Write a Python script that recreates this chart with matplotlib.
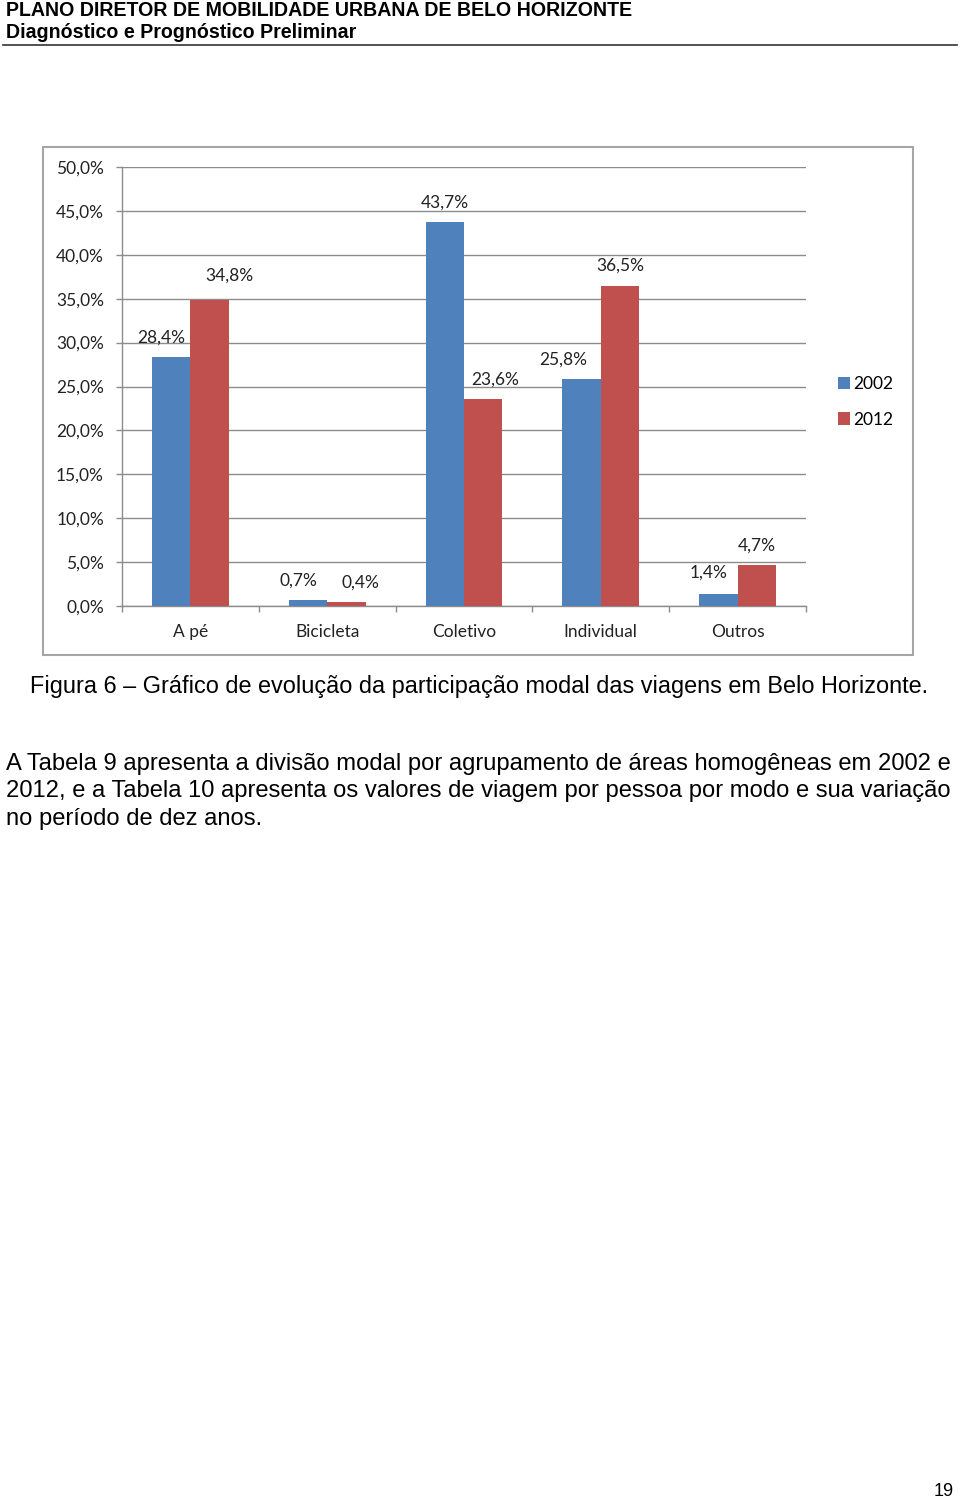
import matplotlib
matplotlib.use('Agg')
import matplotlib.pyplot as plt
from matplotlib.patches import Rectangle
from matplotlib.lines import Line2D
import numpy as np

# Data
modes = ['A pé', 'Bicicleta', 'Coletivo', 'Individual', 'Outros']
share_2002 = [28.4, 0.7, 43.7, 25.8, 1.4]
share_2012 = [34.8, 0.4, 23.6, 36.5, 4.7]
years = ['2002', '2012']
yticks = [0, 5, 10, 15, 20, 25, 30, 35, 40, 45, 50]

# label nudges (points) as placed in the original document
off_2002 = [(-7, 14), (-7, 14), (0, 14), (-13, 14), (-7, 15)]
off_2012 = [(14, 18), (10, 14), (9, 14), (0, 14), (0, 14)]

W, H = 960, 1500
blue, red = '#4F81BD', '#C0504D'
grid_c = '#8C8C8C'
chart_font = 'Lato'

fig = plt.figure(figsize=(W / 100, H / 100), dpi=100)

def fx(px):
    return px / W

def fy(py):
    return 1 - py / H

# page header
fig.text(fx(6), fy(10), 'PLANO DIRETOR DE MOBILIDADE URBANA DE BELO HORIZONTE',
         family='Liberation Sans', weight='bold', fontsize=14.1, va='center', ha='left')
fig.text(fx(6), fy(32), 'Diagnóstico e Prognóstico Preliminar',
         family='Liberation Sans', weight='bold', fontsize=14.1, va='center', ha='left')
fig.add_artist(Line2D([fx(3), fx(957)], [fy(45), fy(45)], color='#333333', lw=1.2))

# chart frame
fig.add_artist(Rectangle((fx(43), fy(655)), fx(913) - fx(43), fy(147) - fy(655),
                         fill=False, edgecolor='#A6A6A6', lw=1.5))

ax = fig.add_axes([fx(122), fy(606), fx(806) - fx(122), fy(167) - fy(606)])
x = np.arange(len(modes))
bw = 0.28
b1 = ax.bar(x - bw / 2, share_2002, bw, color=blue, label=years[0], zorder=3)
b2 = ax.bar(x + bw / 2, share_2012, bw, color=red, label=years[1], zorder=3)

for bars, vals, offs in [(b1, share_2002, off_2002), (b2, share_2012, off_2012)]:
    for b, v, o in zip(bars, vals, offs):
        ax.annotate(f'{v:.1f}%'.replace('.', ','),
                    (b.get_x() + b.get_width() / 2, b.get_height()),
                    xytext=o, textcoords='offset points', ha='center', va='center',
                    fontsize=12.5, family=chart_font, color='#222222')

ax.set_xlim(-0.5, len(modes) - 0.5)
ax.set_ylim(0, 50)
ax.set_yticks(yticks)
ax.set_yticklabels([f'{t:.1f}%'.replace('.', ',') for t in yticks],
                   family=chart_font, fontsize=12.5, color='#222222')
ax.set_xticks(x)
ax.set_xticklabels(modes, family=chart_font, fontsize=12.5, color='#222222')
ax.set_xticks(np.arange(len(modes) + 1) - 0.5, minor=True)
ax.tick_params(axis='x', which='major', length=0, pad=13)
ax.tick_params(axis='x', which='minor', length=4, color=grid_c, width=1)
ax.tick_params(axis='y', length=4, color=grid_c, width=1, pad=9)
ax.yaxis.grid(True, color=grid_c, lw=1, zorder=0)
for s in ['top', 'right']:
    ax.spines[s].set_visible(False)
for s in ['left', 'bottom']:
    ax.spines[s].set_color(grid_c)
    ax.spines[s].set_linewidth(1)
ax.set_facecolor('none')

leg = fig.legend(handles=[b1, b2], labels=years, loc='center left',
                 bbox_to_anchor=(fx(822), fy(402)), frameon=False,
                 prop={'family': chart_font, 'size': 12.5},
                 handlelength=0.7, handleheight=0.7, handletextpad=0.2,
                 labelspacing=1.1)

# caption and body text
fig.text(fx(30), fy(687), 'Figura 6 – Gráfico de evolução da participação modal das viagens em Belo Horizonte.',
         family='Liberation Sans', fontsize=16.9, va='center', ha='left')
body = ['A Tabela 9 apresenta a divisão modal por agrupamento de áreas homogêneas em 2002 e',
        '2012, e a Tabela 10 apresenta os valores de viagem por pessoa por modo e sua variação',
        'no período de dez anos.']
for i, line in enumerate(body):
    fig.text(fx(6), fy(764 + 27.5 * i), line, family='Liberation Sans', fontsize=17.1,
             va='center', ha='left')

fig.text(fx(944), fy(1492), '19', family='Liberation Sans', fontsize=13, va='center', ha='center')

fig.savefig('out.png', dpi=100)
